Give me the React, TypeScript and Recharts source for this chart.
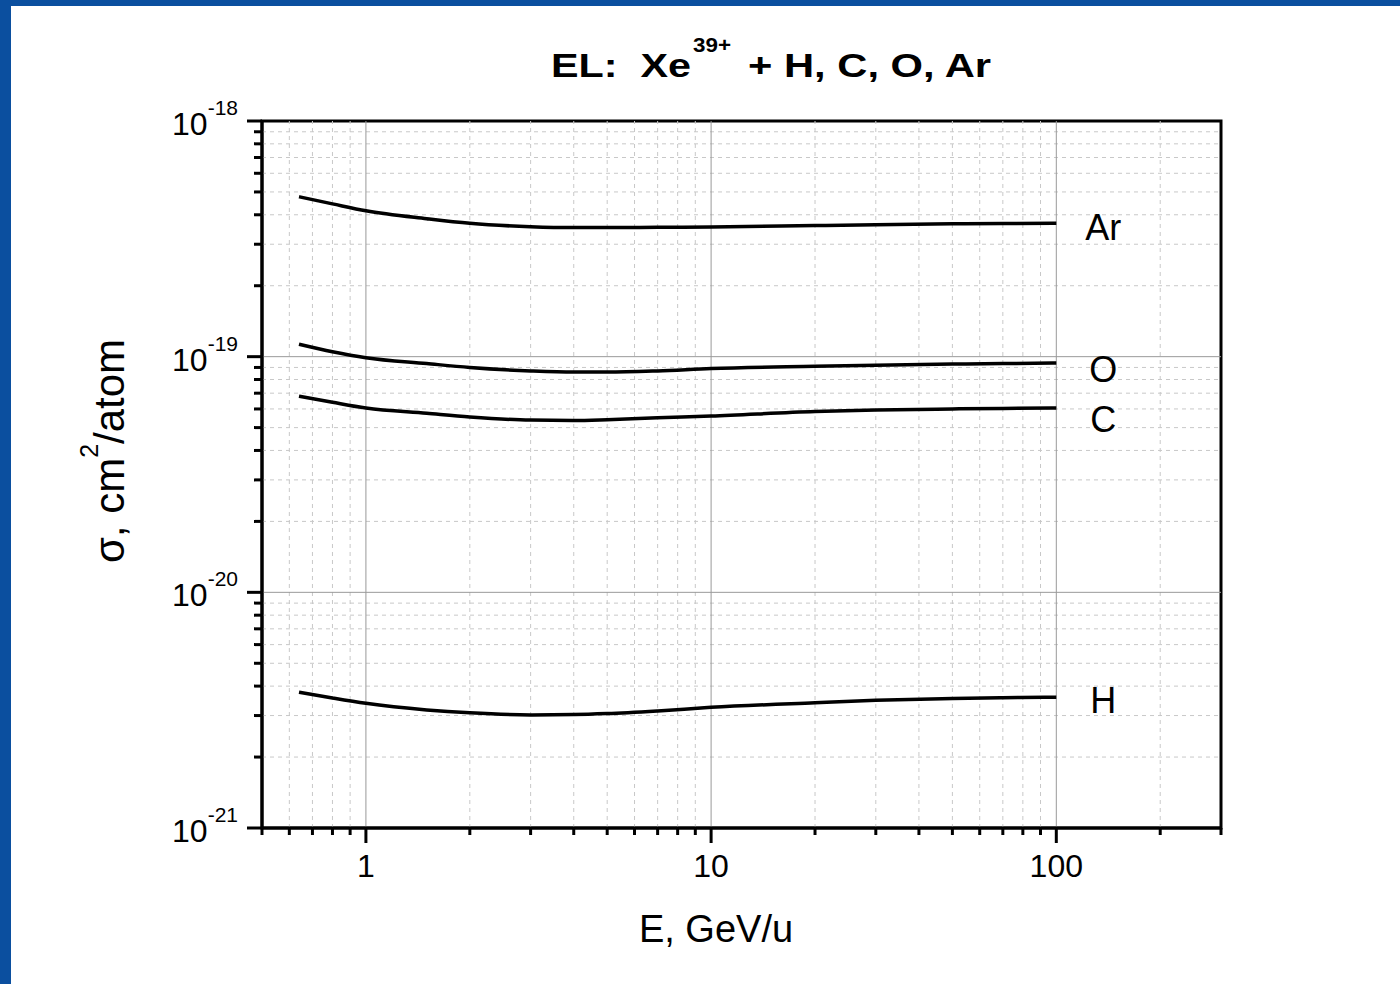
import React from 'react';
import { LineChart, Line, XAxis, YAxis, ReferenceLine, ReferenceArea } from 'recharts';

const FONT = '"Liberation Sans", Arial, Helvetica, sans-serif';

// energy, GeV/u
const energy = [0.64, 0.8, 1, 1.5, 2, 3, 4, 5, 7, 10, 20, 30, 50, 70, 100];

// cross sections, cm^2/atom
const sigmaAr = [4.77e-19, 4.45e-19, 4.16e-19, 3.85e-19, 3.68e-19, 3.56e-19, 3.53e-19, 3.53e-19, 3.54e-19, 3.55e-19, 3.6e-19, 3.63e-19, 3.66e-19, 3.67e-19, 3.68e-19];
const sigmaO = [1.13e-19, 1.05e-19, 9.9e-20, 9.35e-20, 9.0e-20, 8.7e-20, 8.6e-20, 8.6e-20, 8.7e-20, 8.9e-20, 9.1e-20, 9.2e-20, 9.3e-20, 9.35e-20, 9.4e-20];
const sigmaC = [6.8e-20, 6.4e-20, 6.05e-20, 5.75e-20, 5.55e-20, 5.38e-20, 5.36e-20, 5.4e-20, 5.5e-20, 5.6e-20, 5.85e-20, 5.94e-20, 6.0e-20, 6.03e-20, 6.05e-20];
const sigmaH = [3.77e-21, 3.56e-21, 3.38e-21, 3.17e-21, 3.08e-21, 3.02e-21, 3.03e-21, 3.06e-21, 3.14e-21, 3.25e-21, 3.4e-21, 3.48e-21, 3.54e-21, 3.57e-21, 3.59e-21];

const xMajor = [1, 10, 100];
const xMinor = [0.5, 0.6, 0.7, 0.8, 0.9, 2, 3, 4, 5, 6, 7, 8, 9, 20, 30, 40, 50, 60, 70, 80, 90, 200, 300];
const yMajor = [1e-21, 1e-20, 1e-19, 1e-18];
const yMinor = [
  2e-21, 3e-21, 4e-21, 5e-21, 6e-21, 7e-21, 8e-21, 9e-21,
  2e-20, 3e-20, 4e-20, 5e-20, 6e-20, 7e-20, 8e-20, 9e-20,
  2e-19, 3e-19, 4e-19, 5e-19, 6e-19, 7e-19, 8e-19, 9e-19,
];

const xDomain = [0.5, 300];
const yDomain = [1e-21, 1e-18];

const xTicks = [...xMajor, ...xMinor].sort((a, b) => a - b);
const yTicks = [...yMajor, ...yMinor].sort((a, b) => a - b);

// grid lines inside the frame only (edges are covered by the black border)
const inside = (lo: number, hi: number) => (v: number) => v > lo * 1.0001 && v < hi * 0.9999;
const gridXMinor = xMinor.filter(inside(xDomain[0], xDomain[1]));
const gridXMajor = xMajor.filter(inside(xDomain[0], xDomain[1]));
const gridYMinor = yMinor.filter(inside(yDomain[0], yDomain[1]));
const gridYMajor = yMajor.filter(inside(yDomain[0], yDomain[1]));

const chartData = energy.map((e, i) => ({ e, Ar: sigmaAr[i], O: sigmaO[i], C: sigmaC[i], H: sigmaH[i] }));

const series = [
  { key: 'Ar', dy: 17 },
  { key: 'O', dy: 19 },
  { key: 'C', dy: 24 },
  { key: 'H', dy: 16 },
];

const isDecade = (v: number) => Math.abs(Math.log10(v) - Math.round(Math.log10(v))) < 1e-6;

function YTick(props: any) {
  const { x, y, payload } = props;
  const v = payload.value;
  const major = isDecade(v);
  const exp = Math.round(Math.log10(v));
  return (
    <g>
      <line x1={x - (major ? 15 : 8)} x2={x} y1={y} y2={y} stroke="#000" strokeWidth={3} />
      {major && (
        <text x={x - 24} y={y + 14} textAnchor="end" fontSize={32} fontFamily={FONT} fill="#000">
          <tspan>10</tspan>
          <tspan dy={-20} fontSize={21}>{String(exp)}</tspan>
        </text>
      )}
    </g>
  );
}

function XTick(props: any) {
  const { x, y, payload } = props;
  const v = payload.value;
  const major = isDecade(v);
  return (
    <g>
      <line x1={x} x2={x} y1={y} y2={y + (major ? 15 : 7)} stroke="#000" strokeWidth={3} />
      {major && (
        <text x={x} y={y + 49} textAnchor="middle" fontSize={32} fontFamily={FONT} fill="#000">
          {String(v)}
        </text>
      )}
    </g>
  );
}

const endLabel = (name: string, dy: number) => (p: any) => {
  if (p.index !== energy.length - 1) return <g />;
  return (
    <text x={p.x + 47} y={p.y + dy} textAnchor="middle" fontSize={36} fontFamily={FONT} fill="#000">
      {name}
    </text>
  );
};

export default function App() {
  return (
    <div style={{ position: 'absolute', left: 0, top: 0, width: 1400, height: 984, background: '#fff', overflow: 'hidden' }}>
      <div style={{ position: 'absolute', left: 0, top: 0, width: 11, height: 984, background: '#0b4f9f' }} />
      <div style={{ position: 'absolute', left: 0, top: 0, width: 1400, height: 6, background: '#0b4f9f' }} />
      <div style={{ position: 'absolute', left: 0, top: 0 }}>
        <LineChart width={1400} height={984} data={chartData} margin={{ top: 121, right: 179, bottom: 96, left: 202 }}>
          {gridXMinor.map((v, i) => (
            <ReferenceLine key={'xm' + i} x={v} stroke="#c8c8c8" strokeWidth={1} strokeDasharray="4 4" />
          ))}
          {gridYMinor.map((v, i) => (
            <ReferenceLine key={'ym' + i} y={v} stroke="#c8c8c8" strokeWidth={1} strokeDasharray="4 4" />
          ))}
          {gridXMajor.map((v, i) => (
            <ReferenceLine key={'xM' + i} x={v} stroke="#999" strokeWidth={1} />
          ))}
          {gridYMajor.map((v, i) => (
            <ReferenceLine key={'yM' + i} y={v} stroke="#999" strokeWidth={1} />
          ))}
          <XAxis
            dataKey="e"
            type="number"
            scale="log"
            domain={xDomain}
            allowDataOverflow
            ticks={xTicks}
            interval={0}
            height={60}
            tickSize={0}
            tickMargin={0}
            tickLine={false}
            axisLine={{ stroke: '#000', strokeWidth: 3 }}
            tick={(p: any) => <XTick {...p} />}
          />
          <YAxis
            type="number"
            scale="log"
            domain={yDomain}
            allowDataOverflow
            ticks={yTicks}
            interval={0}
            width={60}
            tickSize={0}
            tickMargin={0}
            tickLine={false}
            axisLine={{ stroke: '#000', strokeWidth: 3 }}
            tick={(p: any) => <YTick {...p} />}
          />
          <ReferenceArea x1={xDomain[0]} x2={xDomain[1]} y1={yDomain[0]} y2={yDomain[1]} fill="none" fillOpacity={0} stroke="#000" strokeWidth={3} />
          {series.map((s) => (
            <Line
              key={s.key}
              dataKey={s.key}
              type="monotone"
              stroke="#000"
              strokeWidth={3.5}
              dot={false}
              isAnimationActive={false}
              label={endLabel(s.key, s.dy)}
            />
          ))}
        </LineChart>
      </div>
      <svg width={1400} height={984} style={{ position: 'absolute', left: 0, top: 0, pointerEvents: 'none' }}>
        <g fontFamily={FONT} fontWeight="bold" fill="#000">
          <text x={551} y={77} fontSize={34} textLength={140} lengthAdjust="spacingAndGlyphs" style={{ whiteSpace: 'pre' }}>
            {'EL:  Xe'}
          </text>
          <text x={693} y={52} fontSize={21} textLength={38} lengthAdjust="spacingAndGlyphs">
            39+
          </text>
          <text x={748} y={77} fontSize={34} textLength={243} lengthAdjust="spacingAndGlyphs">
            + H, C, O, Ar
          </text>
        </g>
        <text x={716} y={942} textAnchor="middle" fontSize={38} fontFamily={FONT} fill="#000">
          E, GeV/u
        </text>
        <text x={124} y={451} transform="rotate(-90, 124, 451)" textAnchor="middle" fontSize={42} fontFamily={FONT} fill="#000">
          <tspan>σ, cm</tspan>
          <tspan dy={-26} fontSize={25}>2</tspan>
          <tspan dy={26}>/atom</tspan>
        </text>
      </svg>
    </div>
  );
}
